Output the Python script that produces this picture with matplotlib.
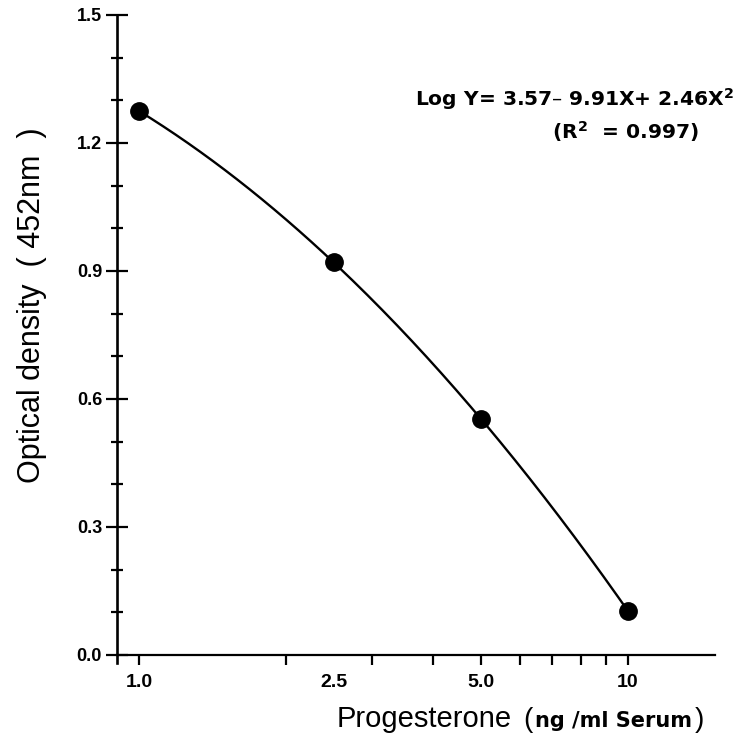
import numpy as np
import matplotlib
matplotlib.use("Agg")
import matplotlib.pyplot as plt
from matplotlib.ticker import FixedLocator, NullFormatter

plt.rcParams['font.family'] = ['Liberation Sans', 'DejaVu Sans']
plt.rcParams['mathtext.default'] = 'regular'

# data
conc = [1.0, 2.5, 5.0, 10.0]
od = [1.275, 0.921, 0.553, 0.103]
x_tick_vals = [1.0, 2.5, 5.0, 10.0]
x_tick_labels = ["1.0", "2.5", "5.0", "10"]
x_minor_vals = [1, 2, 3, 4, 5, 6, 7, 8, 9, 10]
y_major = [0.0, 0.3, 0.6, 0.9, 1.2, 1.5]
y_major_labels = ["0.0", "0.3", "0.6", "0.9", "1.2", "1.5"]
y_minor = [0.1, 0.2, 0.4, 0.5, 0.7, 0.8, 1.0, 1.1, 1.3, 1.4]

fig = plt.figure(figsize=(7.39, 7.38), dpi=100)
ax = fig.add_axes([117/739, (738-663)/738, (715-117)/739, (663-15)/738])

# fitted curve (quadratic in log10 concentration, fitted from the points)
lx = np.log10(conc)
coef = np.polyfit(lx, od, 2)
xs = np.logspace(0, 1, 200)
ax.plot(xs, np.polyval(coef, np.log10(xs)), color='black', lw=1.7, zorder=2)
ax.plot(conc, od, 'o', color='black', ms=12.5, zorder=3)

ax.set_xscale('log')
ax.set_xlim(0.902, 15.06)
ax.set_ylim(-0.019, 1.5)

for s in ['top', 'right']:
    ax.spines[s].set_visible(False)
ax.spines['bottom'].set_position(('data', 0))
ax.spines['left'].set_linewidth(1.9)
ax.spines['bottom'].set_linewidth(1.6)

# x ticks
ax.xaxis.remove_overlapping_locs = False
ax.xaxis.set_major_locator(FixedLocator(x_tick_vals))
ax.set_xticklabels(x_tick_labels)
ax.xaxis.set_minor_locator(FixedLocator(x_minor_vals))
ax.xaxis.set_minor_formatter(NullFormatter())
ax.tick_params(axis='x', which='major', length=0, pad=14, labelsize=14)
ax.tick_params(axis='x', which='minor', direction='out', length=7, width=1.6)
for t in ax.get_xticklabels():
    t.set_fontweight('bold')

# y ticks
ax.set_yticks(y_major)
ax.set_yticklabels(y_major_labels)
ax.set_yticks(y_minor, minor=True)
ax.tick_params(axis='y', which='major', direction='inout', length=16.5, width=1.6,
               labelsize=13, pad=2.5)
ax.tick_params(axis='y', which='minor', direction='inout', length=8.6, width=1.6)
for t in ax.get_yticklabels():
    t.set_fontweight('bold')

# y label
fig.text(32/739, 1 - 305/738, "Optical density  ( 452nm  )", rotation=90,
         fontsize=22, ha='center', va='center')

# x label composed of parts with two sizes
base_y = 1 - 727/738
fig.text(337/739, base_y, "Progesterone", fontsize=21, ha='left', va='baseline')
fig.text(523/739, base_y, "(", fontsize=20, ha='left', va='baseline')
fig.text(535/739, base_y, "ng /ml Serum", fontsize=15, ha='left', va='baseline',
         family='DejaVu Sans', fontweight='bold')
fig.text(695/739, base_y, ")", fontsize=20, ha='left', va='baseline')

# equation
eq = dict(fontsize=14.6, fontweight='bold', family='DejaVu Sans', ha='left', va='center')
fig.text(415/739, 1 - 99/738, "Log Y= 3.57\u2013 9.91X+ 2.46X$^{2}$", **eq)
fig.text(552/739, 1 - 132/738, "(R$^{2}$  = 0.997)", **eq)

fig.savefig("out.png", dpi=100)
